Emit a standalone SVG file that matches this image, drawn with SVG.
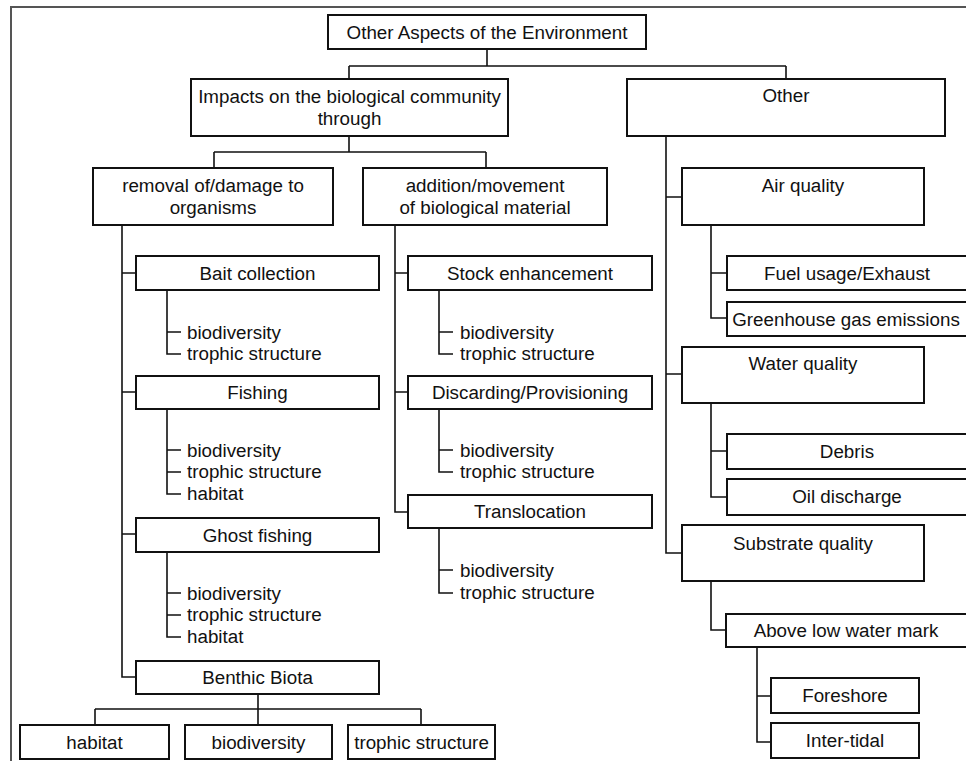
<svg xmlns="http://www.w3.org/2000/svg" width="966" height="761" viewBox="0 0 966 761">
  <style>
    .box { fill: #fff; stroke: #111; stroke-width: 2; }
    .frame { fill: none; stroke: #555; stroke-width: 2; }
    .conn { fill: none; stroke: #111; stroke-width: 1.6; }
    text { font-family: "Liberation Sans", Arial, sans-serif; font-size: 18.8px; fill: #111; }
    .c { text-anchor: middle; }
  </style>
  <rect width="966" height="761" fill="#fff"/>
  <!-- outer frame, continues past the right and bottom edges -->
  <rect class="frame" x="11" y="7" width="980" height="790"/>

  <g id="connectors">
    <!-- root to level 1 -->
    <path class="conn" d="M487 49V66M349 66H786M349 66V79M786 66V79"/>
    <!-- impacts to level 2 -->
    <path class="conn" d="M349 136V152M214 152H486M214 152V168M486 152V168"/>
    <!-- removal trunk -->
    <path class="conn" d="M122 225V677H136M122 273H136M122 392H136M122 534H136"/>
    <!-- addition trunk -->
    <path class="conn" d="M395 225V512H408M395 273H408M395 392H408"/>
    <!-- other trunk -->
    <path class="conn" d="M666 136V553H682M666 197H682M666 374H682"/>
    <!-- air quality -->
    <path class="conn" d="M711 225V318H727M711 273H727"/>
    <!-- water quality -->
    <path class="conn" d="M711 403V497H727M711 451H727"/>
    <!-- substrate quality -->
    <path class="conn" d="M711 581V630H726"/>
    <!-- above low water mark -->
    <path class="conn" d="M757 647V742H771M757 696H771"/>
    <!-- benthic biota -->
    <path class="conn" d="M258 694V709M95 709H421M95 709V725M258 709V725M421 709V725"/>
    <!-- lists -->
    <path class="conn" d="M167 290V354H181M167 332H181"/>
    <path class="conn" d="M167 409V494H181M167 450H181M167 472H181"/>
    <path class="conn" d="M167 552V637H181M167 593H181M167 615H181"/>
    <path class="conn" d="M439 290V354H453M439 332H453"/>
    <path class="conn" d="M439 409V472H453M439 450H453"/>
    <path class="conn" d="M439 528V593H453M439 570H453"/>
  </g>

  <g id="root"><rect class="box" x="328" y="15" width="318" height="34"/><text class="c" x="487" y="38.5">Other Aspects of the Environment</text></g>
  <g id="impacts"><rect class="box" x="191" y="79" width="317" height="57"/><text class="c" x="349.5" y="103">Impacts on the biological community</text><text class="c" x="349.5" y="125">through</text></g>
  <g id="other"><rect class="box" x="627" y="79" width="318" height="57"/><text class="c" x="786" y="102">Other</text></g>

  <g id="removal"><rect class="box" x="93" y="168" width="240" height="57"/><text class="c" x="213" y="192">removal of/damage to</text><text class="c" x="213" y="214">organisms</text></g>
  <g id="addition"><rect class="box" x="363" y="168" width="244" height="57"/><text class="c" x="485" y="192">addition/movement</text><text class="c" x="485" y="214">of biological material</text></g>
  <g id="air"><rect class="box" x="682" y="168" width="242" height="57"/><text class="c" x="803" y="192">Air quality</text></g>

  <g id="bait"><rect class="box" x="136" y="256" width="243" height="34"/><text class="c" x="257.5" y="279.5">Bait collection</text></g>
  <g id="bait-list"><text x="187" y="338.5">biodiversity</text><text x="187" y="360">trophic structure</text></g>
  <g id="fishing"><rect class="box" x="136" y="376" width="243" height="33"/><text class="c" x="257.5" y="398.5">Fishing</text></g>
  <g id="fishing-list"><text x="187" y="456.5">biodiversity</text><text x="187" y="478">trophic structure</text><text x="187" y="500">habitat</text></g>
  <g id="ghost"><rect class="box" x="136" y="518" width="243" height="34"/><text class="c" x="257.5" y="541.5">Ghost fishing</text></g>
  <g id="ghost-list"><text x="187" y="599.5">biodiversity</text><text x="187" y="621">trophic structure</text><text x="187" y="643">habitat</text></g>
  <g id="benthic"><rect class="box" x="136" y="661" width="243" height="33"/><text class="c" x="257.5" y="684">Benthic Biota</text></g>
  <g id="benthic-habitat"><rect class="box" x="20" y="725" width="149" height="34"/><text class="c" x="94.5" y="748.5">habitat</text></g>
  <g id="benthic-biodiversity"><rect class="box" x="185" y="725" width="147" height="34"/><text class="c" x="258.5" y="748.5">biodiversity</text></g>
  <g id="benthic-trophic"><rect class="box" x="348" y="725" width="147" height="34"/><text class="c" x="421.5" y="748.5">trophic structure</text></g>

  <g id="stock"><rect class="box" x="408" y="256" width="244" height="34"/><text class="c" x="530" y="279.5">Stock enhancement</text></g>
  <g id="stock-list"><text x="460" y="338.5">biodiversity</text><text x="460" y="360">trophic structure</text></g>
  <g id="discarding"><rect class="box" x="408" y="376" width="244" height="33"/><text class="c" x="530" y="398.5">Discarding/Provisioning</text></g>
  <g id="discarding-list"><text x="460" y="456.5">biodiversity</text><text x="460" y="478">trophic structure</text></g>
  <g id="translocation"><rect class="box" x="408" y="495" width="244" height="33"/><text class="c" x="530" y="518">Translocation</text></g>
  <g id="translocation-list"><text x="460" y="576.5">biodiversity</text><text x="460" y="599">trophic structure</text></g>

  <g id="fuel"><rect class="box" x="727" y="256" width="260" height="34"/><text class="c" x="847" y="279.5">Fuel usage/Exhaust</text></g>
  <g id="greenhouse"><rect class="box" x="727" y="302" width="260" height="34"/><text class="c" x="846" y="325.5">Greenhouse gas emissions</text></g>
  <g id="water"><rect class="box" x="682" y="347" width="242" height="56"/><text class="c" x="803" y="369.5">Water quality</text></g>
  <g id="debris"><rect class="box" x="727" y="434" width="260" height="35"/><text class="c" x="847" y="457.5">Debris</text></g>
  <g id="oil"><rect class="box" x="727" y="479" width="260" height="36"/><text class="c" x="847" y="503">Oil discharge</text></g>
  <g id="substrate"><rect class="box" x="682" y="525" width="242" height="56"/><text class="c" x="803" y="549.5">Substrate quality</text></g>
  <g id="above"><rect class="box" x="726" y="614" width="260" height="33"/><text class="c" x="846" y="636.5">Above low water mark</text></g>
  <g id="foreshore"><rect class="box" x="771" y="678" width="148" height="35"/><text class="c" x="845" y="702">Foreshore</text></g>
  <g id="intertidal"><rect class="box" x="771" y="723" width="148" height="35"/><text class="c" x="845" y="747">Inter-tidal</text></g>
</svg>
